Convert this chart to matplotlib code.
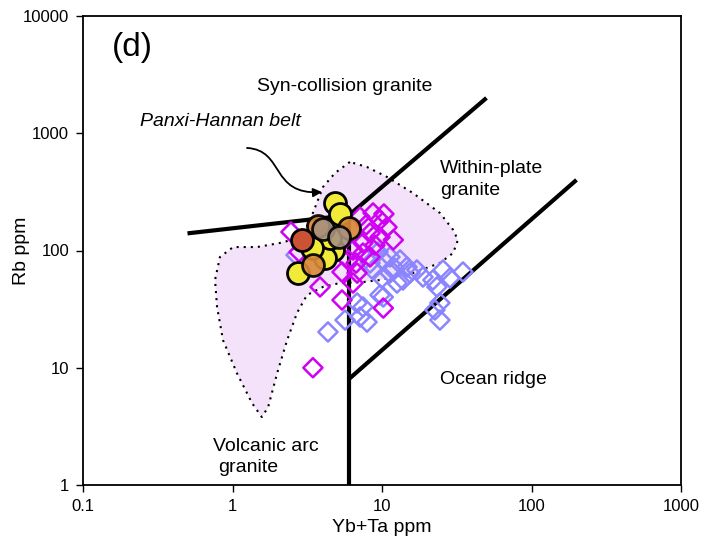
import matplotlib
matplotlib.use("Agg")
import matplotlib.pyplot as plt
from matplotlib import font_manager
from matplotlib.path import Path
from matplotlib.patches import FancyArrowPatch, Polygon
from matplotlib.ticker import FixedLocator, FixedFormatter, NullLocator


def pick_font(names):
    for name in names:
        try:
            font_manager.findfont(name, fallback_to_default=False)
            return name
        except Exception:
            pass
    return "DejaVu Sans"


FONT = pick_font(["Liberation Sans Narrow", "Liberation Sans", "Arial"])
plt.rcParams["font.family"] = [FONT, "DejaVu Sans"]

# ---- tectonic discrimination boundaries (Yb+Ta vs Rb) ----
syn_vag_x = [0.5, 6]
syn_vag_y = [140, 200]
syn_wpg_x = [6, 50]
syn_wpg_y = [200, 2000]
vag_wpg_x = [6, 6]
vag_wpg_y = [1, 200]
org_wpg_x = [6, 200]
org_wpg_y = [8, 400]

# ---- Panxi-Hannan belt field outline ----
field_x = [6.1, 4.85, 4.03, 3.45, 2.92, 2.08, 1.46, 1.01, 0.824, 0.764, 0.788,
           0.864, 1.07, 1.35, 1.57, 1.73, 1.99, 2.32, 2.70, 3.15, 4.03, 5.24,
           7.46, 9.70, 16.1, 24.4, 29.9, 32.2, 29.9, 24.4, 16.1, 10.8, 7.94]
field_y = [569, 458, 348, 209, 130, 116, 107, 107, 88, 56, 33,
           17.2, 9.0, 5.0, 3.8, 4.6, 9.0, 17.2, 29.3, 41.7, 48.9, 52.8,
           53.8, 56, 64.3, 78.2, 95.2, 123, 150, 209, 309, 424, 515]

# ---- comparison data (open diamonds) ----
mag_x = [2.46, 2.79, 3.85, 5.40, 3.45, 10.2, 6.40, 5.40, 5.93, 6.40, 7.46,
         7.46, 8.32, 8.32, 9.70, 11.9, 10.8, 9.70, 8.71, 7.13, 7.82, 6.81,
         8.97, 10.3, 6.70]
mag_y = [144, 97, 48.9, 37.8, 10, 32.3, 52.8, 65.6, 83, 101, 116,
         95, 88, 141, 130, 123, 158, 182, 209, 193, 165, 64.3,
         111, 205, 78]

blue_x = [4.35, 5.66, 7.13, 6.81, 7.46, 10.2, 8.32, 8.71, 10.0, 11.3, 10.2,
          11.3, 13.2, 14.7, 15.4, 13.8, 12.6, 18.8, 21.9, 25.6, 28.5, 34.8,
          23.3, 24.4, 22.6, 24.4, 7.94, 9.70, 2.66, 11.9, 17.1, 9.4]
blue_y = [20.2, 25.5, 27.1, 35.7, 33.0, 40.1, 78.2, 68.2, 58.3, 64.3, 83,
          88, 83, 72.3, 64.3, 56, 52.8, 59.4, 56, 68.2, 58.3, 65.6,
          48.9, 35.7, 31.1, 25.5, 24.5, 41.7, 91.6, 72.3, 68.2, 97]

# ---- this study (filled circles) ----
yellow_x = [4.85, 5.24, 3.85, 4.70, 4.16, 2.74, 4.49, 3.40]
yellow_y = [254, 205, 111, 101, 86, 64, 128, 105]
orange_x = [6.01, 3.73, 3.45]
orange_y = [156, 162, 75]
red_x = [2.92]
red_y = [123]
grey_x = [4.03, 5.15]
grey_y = [152, 130]

# ---- arrow (start, two control points, tip) ----
arrow_x = [1.25, 2.24, 1.78, 3.97]
arrow_y = [749, 719, 297, 315]

x_ticks = [0.1, 1, 10, 100, 1000]
x_tick_labels = ["0.1", "1", "10", "100", "1000"]
y_ticks = [1, 10, 100, 1000, 10000]
y_tick_labels = ["1", "10", "100", "1000", "10000"]

W, H = 703, 544
fig = plt.figure(figsize=(W / 100, H / 100), dpi=100)
ax = fig.add_axes([83 / W, 59 / H, 598 / W, 469 / H])
ax.set_xscale("log")
ax.set_yscale("log")
ax.set_xlim(0.1, 1000)
ax.set_ylim(1, 10000)

# shaded field
ax.add_patch(Polygon(list(zip(field_x, field_y)), closed=True,
                     facecolor="#f4e2fb", edgecolor="none", zorder=1))
ax.plot(field_x + field_x[:1], field_y + field_y[:1], color="black",
        lw=1.5, ls=(0, (1, 2.4)), zorder=1.5)

# boundary lines
for bx, by in [(syn_vag_x, syn_vag_y), (syn_wpg_x, syn_wpg_y),
               (vag_wpg_x, vag_wpg_y), (org_wpg_x, org_wpg_y)]:
    ax.plot(bx, by, color="black", lw=3.0, solid_capstyle="butt", zorder=2)

# diamonds
ax.scatter(blue_x, blue_y, marker="D", s=95, facecolors="none",
           edgecolors="#8a85ff", linewidths=1.8, zorder=3)
ax.scatter(mag_x, mag_y, marker="D", s=95, facecolors="none",
           edgecolors="#d000f2", linewidths=1.8, zorder=3.1)

# circles
circ = dict(s=250, edgecolors="black", linewidths=2.0)
ax.scatter(yellow_x, yellow_y, c="#f2ea38", zorder=4, **circ)
ax.scatter(orange_x, orange_y, c="#d98a38", alpha=0.92, zorder=4.1, **circ)
ax.scatter(red_x, red_y, c="#cc5236", zorder=4.2, **circ)
ax.scatter(grey_x, grey_y, c="#a8927f", alpha=0.9, zorder=4.3, **circ)

# arrow
arrow_path = Path(list(zip(arrow_x, arrow_y)),
                  [Path.MOVETO, Path.CURVE4, Path.CURVE4, Path.CURVE4])
ax.add_patch(FancyArrowPatch(path=arrow_path, arrowstyle="-|>",
                             mutation_scale=13, lw=1.3, color="black",
                             zorder=5))

# annotations
ax.text(0.048, 0.932, "(d)", transform=ax.transAxes, fontsize=24,
        ha="left", va="center")
ax.text(0.437, 0.849, "Syn-collision granite", transform=ax.transAxes,
        fontsize=14, ha="center", va="center")
ax.text(0.230, 0.776, "Panxi-Hannan belt", transform=ax.transAxes,
        fontsize=14, style="italic", ha="center", va="center")
ax.text(0.597, 0.674, "Within-plate", transform=ax.transAxes,
        fontsize=14, ha="left", va="center")
ax.text(0.597, 0.627, "granite", transform=ax.transAxes,
        fontsize=14, ha="left", va="center")
ax.text(0.597, 0.224, "Ocean ridge", transform=ax.transAxes,
        fontsize=14, ha="left", va="center")
ax.text(0.218, 0.083, "Volcanic arc", transform=ax.transAxes,
        fontsize=14, ha="left", va="center")
ax.text(0.226, 0.038, "granite", transform=ax.transAxes,
        fontsize=14, ha="left", va="center")

# axes styling
ax.xaxis.set_major_locator(FixedLocator(x_ticks))
ax.xaxis.set_major_formatter(FixedFormatter(x_tick_labels))
ax.yaxis.set_major_locator(FixedLocator(y_ticks))
ax.yaxis.set_major_formatter(FixedFormatter(y_tick_labels))
ax.xaxis.set_minor_locator(NullLocator())
ax.yaxis.set_minor_locator(NullLocator())
ax.tick_params(direction="out", length=5, width=1.0, labelsize=12,
               pad=5, colors="black")
for sp in ax.spines.values():
    sp.set_linewidth(1.3)
    sp.set_color("black")

ax.set_xlabel("Yb+Ta ppm", fontsize=14)
ax.set_ylabel("Rb ppm", fontsize=14)
ax.xaxis.set_label_coords(0.5, -0.072)
ax.yaxis.set_label_coords(-0.088, 0.5)

fig.savefig("out.png", dpi=100)
